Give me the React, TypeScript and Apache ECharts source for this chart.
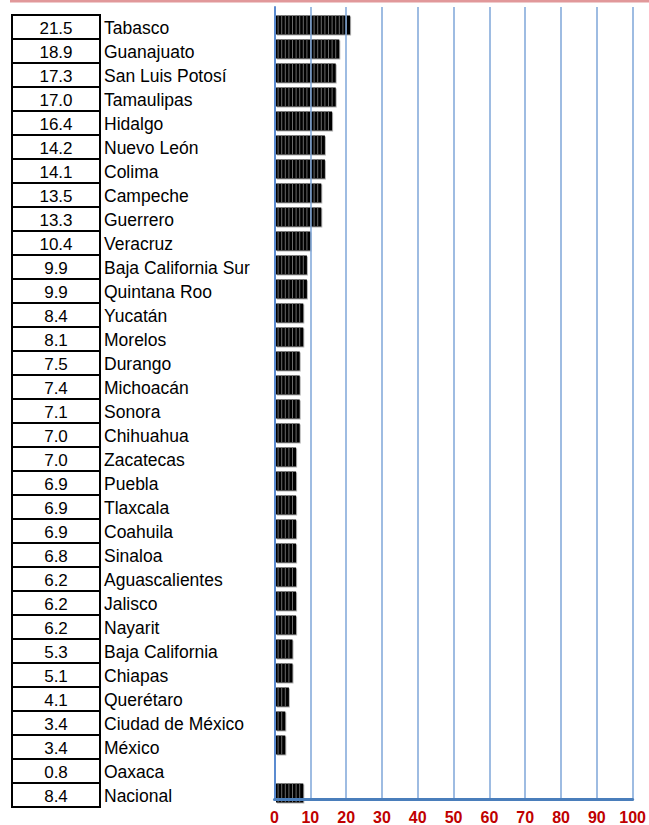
import React, { useEffect, useRef } from "react";
import * as echarts from "echarts";

const states: string[] = [
  "Tabasco", "Guanajuato", "San Luis Potosí", "Tamaulipas", "Hidalgo", "Nuevo León",
  "Colima", "Campeche", "Guerrero", "Veracruz", "Baja California Sur", "Quintana Roo",
  "Yucatán", "Morelos", "Durango", "Michoacán", "Sonora", "Chihuahua", "Zacatecas",
  "Puebla", "Tlaxcala", "Coahuila", "Sinaloa", "Aguascalientes", "Jalisco", "Nayarit",
  "Baja California", "Chiapas", "Querétaro", "Ciudad de México", "México", "Oaxaca", "Nacional",
];

const tableValues: string[] = [
  "21.5", "18.9", "17.3", "17.0", "16.4", "14.2", "14.1", "13.5", "13.3", "10.4",
  "9.9", "9.9", "8.4", "8.1", "7.5", "7.4", "7.1", "7.0", "7.0", "6.9",
  "6.9", "6.9", "6.8", "6.2", "6.2", "6.2", "5.3", "5.1", "4.1", "3.4",
  "3.4", "0.8", "8.4",
];

// Bar lengths as drawn in the picture (whole units of the pictogram bars)
const barUnits: number[] = [
  21, 18, 17, 17, 16, 14, 14, 13, 13, 10,
  9, 9, 8, 8, 7, 7, 7, 7, 6, 6,
  6, 6, 6, 6, 6, 6, 5, 5, 4, 3,
  3, 0, 8,
];

const axisMin = 0;
const axisMax = 100;
const axisStep = 10;

const FONT = '"Liberation Sans", Arial, sans-serif';

export default function App() {
  const ref = useRef<HTMLDivElement>(null);

  useEffect(() => {
    if (!ref.current) return;
    const chart = echarts.init(ref.current, undefined, { renderer: "svg" });

    const rowTop = 15;
    const rowH = 24;

    const graphic: any[] = [
      { type: "rect", shape: { x: 10, y: 0, width: 639, height: 2.5 }, style: { fill: "#e1989a" } },
    ];
    states.forEach((s, i) => {
      graphic.push({
        type: "rect",
        shape: { x: 12, y: rowTop + i * rowH, width: 88, height: rowH },
        style: { fill: "none", stroke: "#000", lineWidth: 2 },
      });
      graphic.push({
        type: "text",
        x: 56,
        y: rowTop + i * rowH + rowH / 2 + 1,
        style: {
          text: tableValues[i], fill: "#000", fontSize: 17, fontFamily: FONT,
          align: "center", verticalAlign: "middle",
        },
      });
      graphic.push({
        type: "text",
        x: 104,
        y: rowTop + i * rowH + rowH / 2 + 1,
        style: {
          text: s, fill: "#000", fontSize: 17.5, fontFamily: FONT,
          align: "left", verticalAlign: "middle",
        },
      });
    });

    const renderBar = (params: any, api: any) => {
      const v = api.value(0);
      const cat = api.value(1);
      if (!v) return { type: "group", children: [] };
      const start = api.coord([0, cat]);
      const end = api.coord([v, cat]);
      const h = 19;
      const x0 = start[0] + 1.5;
      const y0 = start[1] - h / 2;
      const w = end[0] - x0;
      const children: any[] = [
        { type: "rect", shape: { x: x0 + 1, y: y0 + 1, width: w, height: h }, style: { fill: "#b0b0b0" } },
        { type: "rect", shape: { x: x0, y: y0, width: w, height: h }, style: { fill: "#000" } },
      ];
      for (let k = 1; k < v; k++) {
        const px = api.coord([k, cat])[0];
        children.push({
          type: "rect",
          shape: { x: px - 0.5, y: y0, width: 1, height: h },
          style: { fill: "#6a6a6a" },
        });
      }
      return { type: "group", children };
    };

    chart.setOption({
      animation: false,
      grid: [
        { left: 274.5, top: 13, width: 360, height: 792, containLabel: false },
        { left: 274.5, top: 7, width: 360, height: 801, containLabel: false },
      ],
      xAxis: [
        { gridIndex: 0, type: "value", min: axisMin, max: axisMax, show: false },
        {
          gridIndex: 1, type: "value", min: axisMin, max: axisMax, interval: axisStep, z: 3,
          axisLine: { show: true, lineStyle: { color: "#4a7ebb", width: 3 } },
          axisTick: { show: false },
          axisLabel: {
            margin: 10, color: "#c00000", fontWeight: "bold", fontSize: 16, fontFamily: FONT,
          },
          splitLine: { show: true, lineStyle: { color: "#7ea6d8", width: 1.5 } },
        },
      ],
      yAxis: [
        { gridIndex: 0, type: "category", data: states, inverse: true, show: false },
        {
          gridIndex: 1, type: "value", min: 0, max: 1, z: 3,
          axisLine: { show: true, lineStyle: { color: "#5b8bd0", width: 2 } },
          axisTick: { show: false },
          axisLabel: { show: false },
          splitLine: { show: false },
        },
      ],
      series: [
        {
          type: "custom",
          xAxisIndex: 0,
          yAxisIndex: 0,
          data: barUnits.map((v, i) => [v, i]),
          encode: { x: 0, y: 1 },
          renderItem: renderBar,
          silent: true,
        },
      ],
      graphic,
    });

    return () => chart.dispose();
  }, []);

  return (
    <div
      ref={ref}
      style={{ position: "absolute", left: 0, top: 0, width: 649, height: 825, background: "#fff" }}
    />
  );
}
